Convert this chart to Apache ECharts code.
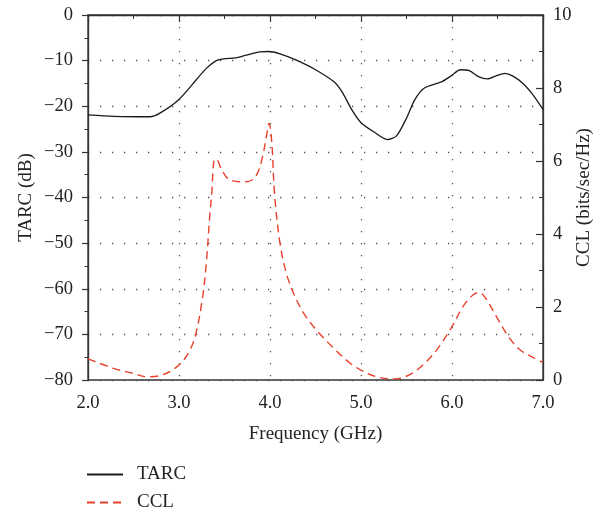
<!DOCTYPE html>
<html><head><meta charset="utf-8">
<script src="https://cdn.jsdelivr.net/npm/echarts@6/dist/echarts.min.js"></script>
<style>html,body{margin:0;padding:0;background:#fff}#c{width:603px;height:512px}</style>
</head><body><div id="c"></div>
<script>
// TARC (dB), left axis
const tarcFreq = [2.0, 2.28, 2.68, 2.79, 3.0, 3.19, 3.30, 3.41, 3.49, 3.62, 3.74, 3.89, 3.98, 4.11, 4.29, 4.51, 4.70, 4.79, 4.90, 5.00, 5.14, 5.29, 5.39, 5.50, 5.59, 5.69, 5.89, 6.00, 6.09, 6.19, 6.29, 6.39, 6.49, 6.58, 6.67, 6.78, 6.89, 7.0];
const tarcVals = [-21.9, -22.2, -22.3, -21.5, -18.5, -14.2, -11.7, -10.0, -9.6, -9.4, -8.8, -8.1, -8.0, -8.5, -9.9, -12.1, -14.6, -16.8, -20.8, -23.6, -25.6, -27.3, -26.5, -22.6, -18.6, -16.1, -14.6, -13.2, -12.0, -12.2, -13.5, -14.0, -13.3, -12.8, -13.4, -15.0, -17.5, -20.7];
// CCL (bits/sec/Hz), right axis
const cclFreq = [2.0, 2.28, 2.50, 2.645, 2.79, 3.0, 3.12, 3.19, 3.26, 3.30, 3.34, 3.36, 3.385, 3.41, 3.47, 3.56, 3.74, 3.84, 3.91, 3.96, 3.99, 4.02, 4.05, 4.11, 4.18, 4.26, 4.37, 4.51, 4.70, 4.88, 5.00, 5.17, 5.37, 5.53, 5.68, 5.83, 6.00, 6.12, 6.23, 6.30, 6.37, 6.49, 6.62, 6.75, 6.89, 7.0];
const cclVals = [0.58, 0.32, 0.18, 0.09, 0.12, 0.41, 0.82, 1.32, 2.28, 3.20, 4.57, 5.11, 6.03, 6.05, 5.75, 5.48, 5.43, 5.57, 6.03, 6.67, 7.03, 6.49, 5.1, 3.74, 2.92, 2.37, 1.83, 1.37, 0.87, 0.46, 0.27, 0.09, 0.03, 0.14, 0.41, 0.82, 1.46, 2.01, 2.33, 2.40, 2.24, 1.73, 1.19, 0.82, 0.62, 0.48];
const legendNames = ['TARC', 'CCL'];

const font = 'Liberation Serif';
const ink = '#222';
const tickFont = 18.5;
const nameFont = 19;
const minus = v => String(v).replace('-', '\u2212');
const pairs = (xs, ys) => xs.map((x, i) => [x, ys[i]]);
const legendBase = {
  orient: 'vertical', left: 86, itemWidth: 36, itemHeight: 14, padding: 0,
  itemStyle: {opacity: 0},
  textStyle: {fontFamily: font, fontSize: nameFont, color: ink, padding: [0, 0, 0, 9]}
};

const chart = echarts.init(document.getElementById('c'), null, {renderer: 'canvas'});
chart.setOption({
  animation: false,
  grid: {left: 88, right: 60, top: 15, bottom: 132, show: true, borderColor: '#333', borderWidth: 1.3, backgroundColor: 'transparent', containLabel: false, outerBoundsMode: 'none'},
  legend: [
    Object.assign({}, legendBase, {top: 465, data: [legendNames[0]]}),
    Object.assign({}, legendBase, {top: 493, data: [legendNames[1]]})
  ],
  xAxis: {
    type: 'value', min: 2, max: 7, interval: 1,
    name: 'Frequency (GHz)', nameLocation: 'middle', nameGap: 45, nameMoveOverlap: false,
    nameTextStyle: {fontFamily: font, fontSize: nameFont, color: ink},
    axisLine: {show: true, lineStyle: {color: '#333', width: 1.3}},
    axisTick: {show: true, inside: false, length: 7, lineStyle: {color: '#333', width: 1.2}},
    minorTick: {show: true, splitNumber: 2, length: 4, lineStyle: {color: '#333', width: 1}},
    axisLabel: {margin: 14, fontFamily: font, fontSize: tickFont, color: ink, formatter: v => v.toFixed(1)},
    splitLine: {show: true, lineStyle: {color: '#555', width: 1.3, type: [1.3, 10.7]}}
  },
  yAxis: [{
    type: 'value', min: -80, max: 0, interval: 10,
    name: 'TARC (dB)', nameLocation: 'middle', nameGap: 52, nameRotate: 90, nameMoveOverlap: false,
    nameTextStyle: {fontFamily: font, fontSize: nameFont, color: ink},
    axisLine: {show: true, lineStyle: {color: '#333', width: 1.3}},
    axisTick: {show: true, inside: false, length: 6, lineStyle: {color: '#333', width: 1.2}},
    minorTick: {show: true, splitNumber: 2, length: 3.5, lineStyle: {color: '#333', width: 1}},
    axisLabel: {margin: 15, fontFamily: font, fontSize: tickFont, color: ink, formatter: v => minus(v)},
    splitLine: {show: true, lineStyle: {color: '#555', width: 1.3, type: [1.3, 10.7]}}
  }, {
    type: 'value', min: 0, max: 10, interval: 2, position: 'right',
    name: 'CCL (bits/sec/Hz)', nameLocation: 'middle', nameGap: 32, nameRotate: 90, nameMoveOverlap: false,
    nameTextStyle: {fontFamily: font, fontSize: nameFont, color: ink},
    axisLine: {show: true, lineStyle: {color: '#333', width: 1.3}},
    axisTick: {show: true, inside: true, length: 7, lineStyle: {color: '#333', width: 1.2}},
    minorTick: {show: true, splitNumber: 2, length: 4, lineStyle: {color: '#333', width: 1}},
    axisLabel: {margin: 10, fontFamily: font, fontSize: tickFont, color: ink},
    splitLine: {show: false}
  }],
  series: [{
    name: legendNames[0], type: 'line', yAxisIndex: 0, symbol: 'none', smooth: 0.25,
    data: pairs(tarcFreq, tarcVals),
    lineStyle: {color: '#1a1a1a', width: 1.3},
    itemStyle: {color: '#1a1a1a'}
  }, {
    name: legendNames[1], type: 'line', yAxisIndex: 1, symbol: 'none', smooth: 0.35,
    data: pairs(cclFreq, cclVals),
    lineStyle: {color: '#e8402a', width: 1.4, type: [8, 5]},
    itemStyle: {color: '#e8402a'}
  }]
});
</script></body></html>
